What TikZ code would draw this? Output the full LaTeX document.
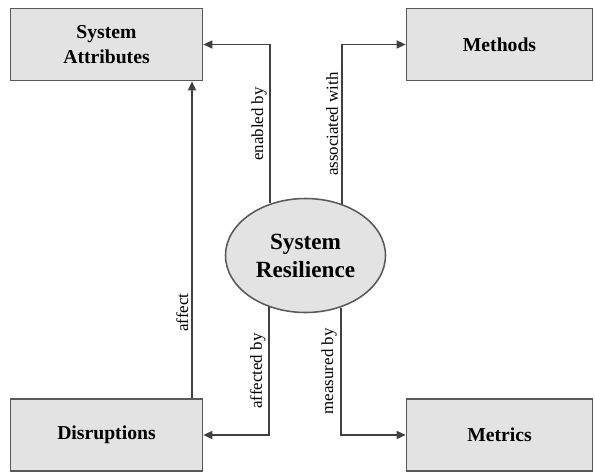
\documentclass[tikz,border=0pt]{standalone}
\usepackage{fontspec}
\setmainfont{Liberation Serif}
\usetikzlibrary{arrows.meta,shapes.geometric}

\begin{document}
\begin{tikzpicture}[
    box/.style={rectangle, draw=black!65, line width=1.1pt, fill=black!11,
        inner sep=0pt, minimum height=1.8cm, align=center,
        font=\fontsize{14}{17.5}\selectfont\bfseries},
    hub/.style={ellipse, draw=black!65, line width=1.1pt, fill=black!11,
        inner sep=0pt, minimum width=4cm, minimum height=2.85cm, align=center,
        font=\fontsize{16.5}{20}\selectfont\bfseries},
    link/.style={line width=1.3pt, draw=black!75, -{Triangle[length=2.3mm, width=2mm]}},
    lbl/.style={rotate=90, anchor=south, inner sep=2pt,
        font=\fontsize{12}{14}\selectfont}
]
    \useasboundingbox (0,0) rectangle (14.875,11.825);
    \node[box, minimum width=4.8cm] (attr) at (2.6625,10.7125) {System\\Attributes};
    \node[box, minimum width=4.65cm] (meth) at (12.4875,10.7125) {Methods};
    \node[box, minimum width=4.8cm] (disr) at (2.6625,0.95) {Disruptions};
    \node[box, minimum width=4.65cm] (metr) at (12.4875,0.95) {Metrics};
    \node[hub] (res) at (7.6375,5.4375) {System\\Resilience};
    \draw[link] (res.124.5) |- node[lbl, pos=0.25] {enabled by} (attr.east);
    \draw[link] (res.55.5) |- node[lbl, pos=0.25] {associated with} (meth.west);
    \draw[link] (res.235.5) |- node[lbl, pos=0.25] {affected by} (disr.east);
    \draw[link] (res.304.5) |- node[lbl, pos=0.25] {measured by} (metr.west);
    \draw[link] (disr.north -| 4.8,0) -- node[lbl, pos=0.27] {affect} (attr.south -| 4.8,0);
\end{tikzpicture}
\end{document}
